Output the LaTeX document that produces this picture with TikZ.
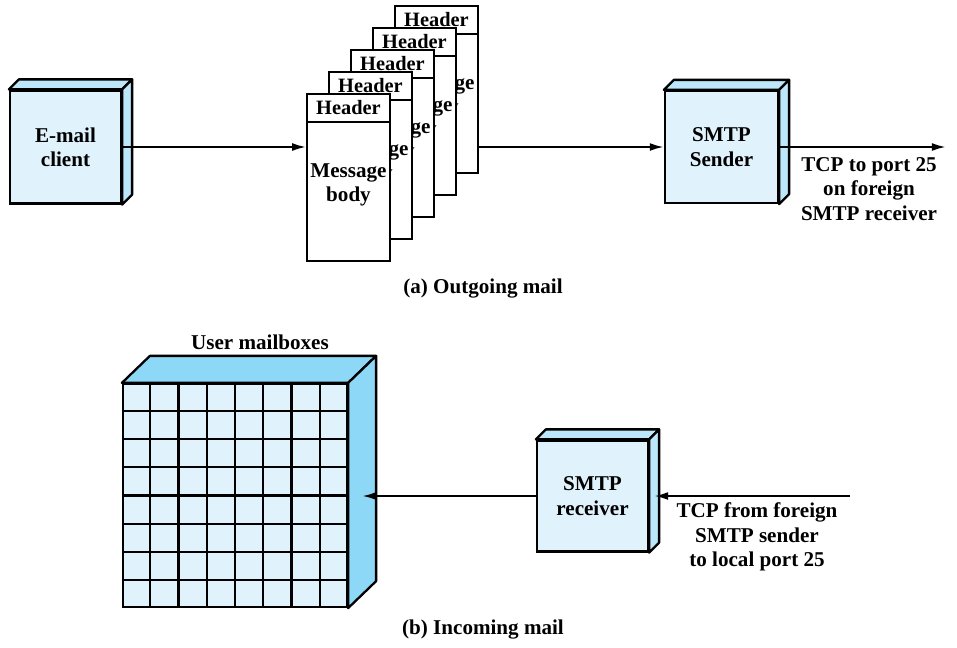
\documentclass[tikz,border=0pt]{standalone}
\usepackage{fontspec}
\setmainfont{Liberation Serif}
\usepackage{tikz}
\usetikzlibrary{calc,arrows.meta}
\definecolor{facefront}{HTML}{E0F2FC}
\definecolor{faceside}{HTML}{BCE6F9}
\definecolor{boxside}{HTML}{8DD8F6}
\tikzset{
  face/.style={draw,line width=1.3pt,fill=facefront,align=center,inner sep=0pt,
    font=\fontsize{12}{13.8}\selectfont\bfseries},
  depth/.style={draw,line width=1.3pt,fill=faceside,line join=round},
  page/.style={draw,line width=0.9pt,fill=white,minimum width=1.66cm,minimum height=3.34cm,inner sep=0pt},
  hdr/.style={draw,line width=0.9pt,minimum width=1.66cm,minimum height=0.56cm,inner sep=0pt,
    font=\fontsize{11.6}{13.8}\selectfont\bfseries},
  txt/.style={align=center,font=\fontsize{12}{13.8}\selectfont\bfseries},
  flow/.style={->,>={Latex[length=8pt,width=4.5pt]},line width=1.2pt}
}

\begin{document}
\begin{tikzpicture}[x=0.02cm,y=-0.02cm]
    \useasboundingbox (0,0) rectangle (957,647);
    % E-mail client
    \node[face,minimum width=2.22cm,minimum height=2.26cm] (cli) at (65.5,147) {E-mail\\client};
    \draw[depth] (cli.north west) -- ++(10,-10) -- ($(cli.north east)+(10,-10)$) -- (cli.north east) -- cycle;
    \draw[depth] (cli.north east) -- ++(10,-10) -- ($(cli.south east)+(10,-10)$) -- (cli.south east) -- cycle;
    % Stack of messages, back to front
    \node[page] (pg5) at (436.5,89.5) {};
    \node[hdr,anchor=north] (h5) at (pg5.north) {Header};
    \node[txt] at ($(pg5.north)+(0,92)$) {Message\\body};
    \node[page] (pg4) at (414.5,111.5) {};
    \node[hdr,anchor=north] (h4) at (pg4.north) {Header};
    \node[txt] at ($(pg4.north)+(0,92)$) {Message\\body};
    \node[page] (pg3) at (392.5,133.5) {};
    \node[hdr,anchor=north] (h3) at (pg3.north) {Header};
    \node[txt] at ($(pg3.north)+(0,92)$) {Message\\body};
    \node[page] (pg2) at (370.5,155.5) {};
    \node[hdr,anchor=north] (h2) at (pg2.north) {Header};
    \node[txt] at ($(pg2.north)+(0,92)$) {Message\\body};
    \node[page] (pg1) at (348.5,177.5) {};
    \node[hdr,anchor=north] (h1) at (pg1.north) {Header};
    \node[txt] at ($(pg1.north)+(0,92)$) {Message\\body};
    % SMTP sender
    \node[face,minimum width=2.26cm,minimum height=2.24cm] (snd) at (721.5,147) {SMTP\\Sender};
    \draw[depth] (snd.north west) -- ++(10,-10) -- ($(snd.north east)+(10,-10)$) -- (snd.north east) -- cycle;
    \draw[depth] (snd.north east) -- ++(10,-10) -- ($(snd.south east)+(10,-10)$) -- (snd.south east) -- cycle;
    \coordinate (out) at (946,147);
    % outgoing arrows
    \draw[flow] (cli.east) -- (pg1.west |- cli.east);
    \draw[flow] (pg5.east |- snd.west) -- (snd.west);
    \draw[flow] (snd.east) -- (out);
    \node[txt] (outlbl) at (869,189) {TCP to port 25\\on foreign\\SMTP receiver};
    \node[txt] (capa) at (483,289) {(a) Outgoing mail};
    % User mailboxes
    \node[face,minimum width=4.48cm,minimum height=4.46cm] (mbox) at (235,495.5) {};
    \draw[depth,fill=boxside] (mbox.north west) -- ++(28,-27) -- ($(mbox.north east)+(28,-27)$) -- (mbox.north east) -- cycle;
    \draw[depth,fill=boxside] (mbox.north east) -- ++(28,-27) -- ($(mbox.south east)+(28,-27)$) -- (mbox.south east) -- cycle;
    \foreach \i in {1,...,7} {
      \draw[line width=1.3pt] ($(mbox.north west)!\i/8!(mbox.north east)$) -- ($(mbox.south west)!\i/8!(mbox.south east)$);
      \draw[line width=1.3pt] ($(mbox.north west)!\i/8!(mbox.south west)$) -- ($(mbox.north east)!\i/8!(mbox.south east)$);
    }
    \coordinate (mside) at ($(mbox.east)+(14,-13)$);
    \node[txt] (mlbl) at (260,342) {User mailboxes};
    % SMTP receiver
    \node[face,minimum width=2.22cm,minimum height=2.22cm] (rcv) at (592.5,496) {SMTP\\receiver};
    \draw[depth] (rcv.north west) -- ++(10,-10) -- ($(rcv.north east)+(10,-10)$) -- (rcv.north east) -- cycle;
    \draw[depth] (rcv.north east) -- ++(10,-10) -- ($(rcv.south east)+(10,-10)$) -- (rcv.south east) -- cycle;
    \coordinate (rside) at ($(rcv.east)+(5,0)$);
    \coordinate (in) at (850,496);
    % incoming arrows
    \draw[flow] (in) -- (rside);
    \draw[flow] (rcv.west) -- (mside |- rcv.west);
    \node[txt] (inlbl) at (757,537) {TCP from foreign\\SMTP sender\\to local port 25};
    \node[txt] (capb) at (483,629) {(b) Incoming mail};
\end{tikzpicture}
\end{document}
